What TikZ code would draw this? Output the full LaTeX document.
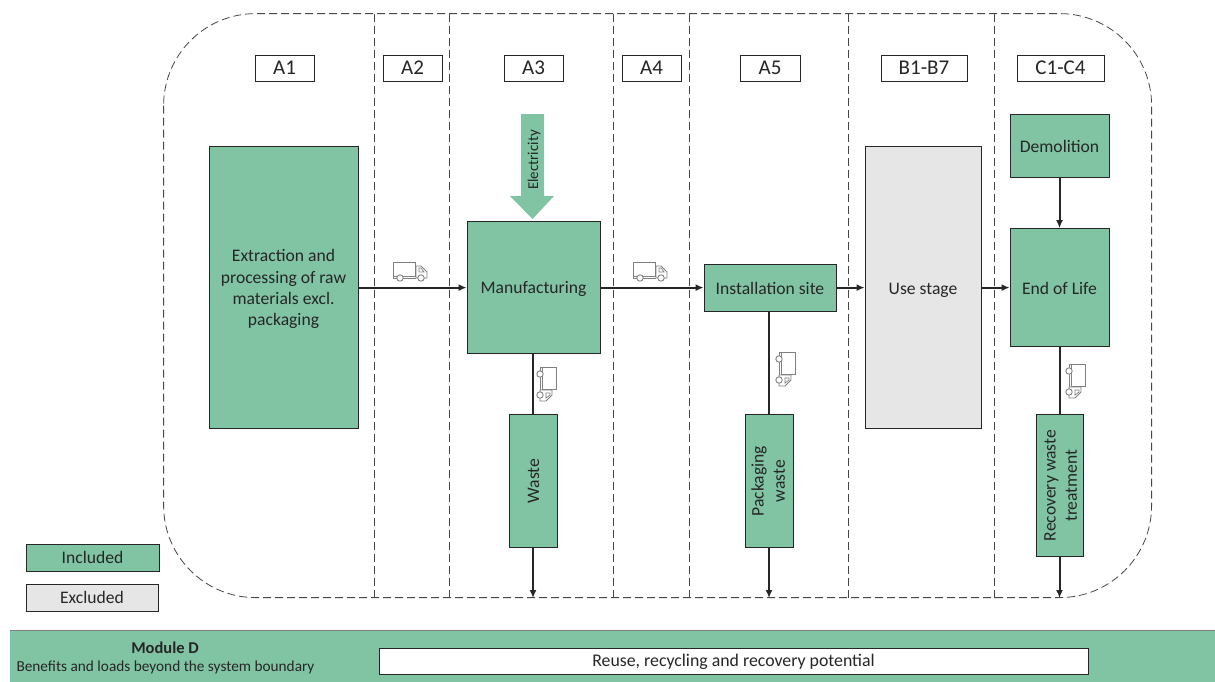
\documentclass[tikz,border=0pt]{standalone}
\usepackage{fontspec}
\setmainfont{Carlito}
\usetikzlibrary{arrows.meta}
\definecolor{grn}{HTML}{80C4A3}
\definecolor{gry}{HTML}{E6E6E6}
\definecolor{ink}{HTML}{262626}
\definecolor{trk}{HTML}{808080}
\newcommand\lowr[2]{\raisebox{-#1}[\height][\depth]{#2}}
\tikzset{
  x=1pt,y=-1pt,
  every node/.style={font=\fontsize{17.6}{21.3}\selectfont,text=ink,inner sep=0pt,align=center},
  box/.style={draw=ink,line width=0.9pt,fill=grn,minimum width=#1},
  box/.default=40pt,
  grey/.style={fill=gry},
  tag/.style={draw=ink,line width=0.7pt,fill=white,minimum height=26pt,font=\fontsize{21}{24}\selectfont},
  bound/.style={draw=ink!85,line width=0.8pt,dash pattern=on 8pt off 4pt},
  arr/.style={draw=ink,line width=2pt,-{Latex[length=8pt,width=7pt]}},
  plain/.style={draw=ink,line width=2pt},
  truck/.pic={
    \draw[trk,line width=0.9pt,fill=white] (-17,-9) rectangle (5,5);
    \draw[trk,line width=0.9pt,fill=white] (6,-5) -- (11,-5) -- (17,1) -- (17,7) -- (6,7) -- cycle;
    \draw[trk,line width=0.8pt] (-17,5) -- (-17,7) -- (6,7);
    \draw[trk,line width=0.7pt] (9,-3) -- (11,-3) -- (14,1) -- (9,1) -- cycle;
    \draw[trk,line width=0.9pt,fill=white] (-10,7) circle (3.2);
    \draw[trk,line width=0.9pt,fill=white] (11,7) circle (3.2);
  }
}
\begin{document}
\begin{tikzpicture}
\useasboundingbox (0,0) rectangle (1215,681);
\fill[white] (0,0) rectangle (1215,681);
% system boundary
\draw[bound,rounded corners=92pt] (163.6,13.6) rectangle (1151.6,597.6);
\foreach \x in {374.6,449.6,613.6,689.6,848.6,994.6} \draw[bound] (\x,13.6) -- (\x,597.6);
% module labels
\node[tag,minimum width=59pt] (tA1) at (284.5,68) {A1};
\node[tag,minimum width=59pt] (tA2) at (412.5,68) {A2};
\node[tag,minimum width=59pt] (tA3) at (533.5,68) {A3};
\node[tag,minimum width=59pt] (tA4) at (651.5,68) {A4};
\node[tag,minimum width=60pt] (tA5) at (770,68) {A5};
\node[tag,minimum width=86pt] (tB) at (924,68) {B1-B7};
\node[tag,minimum width=87pt] (tC) at (1060.5,68) {C1-C4};
% process boxes
\node[box=149pt,minimum height=282pt] (raw) at (283.5,287.6) {\lowr{1.8pt}{\begin{tabular}{@{}c@{}}Extraction and\\processing of raw\\materials excl.\\packaging\end{tabular}}};
\node[box=133pt,minimum height=132pt] (mfg) at (533.5,287.6) {\lowr{1.8pt}{Manufacturing}};
\node[box=132pt,minimum height=47pt] (site) at (770,287.6) {\lowr{1pt}{Installation site}};
\node[box=116pt,minimum height=282pt,grey] (use) at (923,287.6) {\lowr{2.3pt}{Use stage}};
\node[box=99pt,minimum height=118pt] (eol) at (1059.5,287.6) {\lowr{0.8pt}{End of Life}};
\node[box=99pt,minimum height=63pt] (demo) at (1059.5,146.1) {\lowr{0.3pt}{Demolition}};
\node[box=48pt,minimum height=133pt] (waste) at (533,481.1) {\rotatebox{90}{\lowr{0.5pt}{Waste}}};
\node[box=48pt,minimum height=133pt] (pack) at (769,481.1) {\rotatebox{90}{\lowr{1pt}{\begin{tabular}{@{}c@{}}Packaging\\waste\end{tabular}}}};
\node[box=47pt,minimum height=142pt] (rec) at (1059.5,485.6) {\rotatebox{90}{\lowr{2.5pt}{\begin{tabular}{@{}c@{}}Recovery waste\\treatment\end{tabular}}}};
% electricity arrow
\path[fill=grn] (521,114) -- (544,114) -- (544,196) -- (554,196) -- (532.5,219) -- (510,196) -- (521,196) -- cycle;
\node[font=\fontsize{15}{18}\selectfont,rotate=90] (elec) at (534,160) {Electricity};
% connectors
\coordinate (e1) at (533,598);
\coordinate (e2) at (769,598);
\coordinate (e3) at (1059.5,598);
\draw[arr] (raw) -- (mfg);
\draw[arr] (mfg) -- (site);
\draw[arr] (site) -- (use);
\draw[arr] (use) -- (eol);
\draw[arr] (demo) -- (eol);
\draw[plain] (mfg.south -| waste.north) -- (waste.north);
\draw[plain] (site.south -| pack.north) -- (pack.north);
\draw[plain] (eol) -- (rec);
\draw[arr] (waste) -- (e1);
\draw[arr] (pack) -- (e2);
\draw[arr] (rec) -- (e3);
% trucks
\pic at (410,271) {truck};
\pic at (650,271) {truck};
\pic[rotate=-90] at (547,384) {truck};
\pic[rotate=-90] at (786,369) {truck};
\pic[rotate=-90] at (1076,381) {truck};
% legend
\node[box=133pt,minimum height=27pt] (inc) at (92.5,557.5) {Included};
\node[box=132pt,minimum height=27pt,grey] (exc) at (92,597.5) {Excluded};
% module D
\node[fill=grn,draw=none,minimum width=1206pt,minimum height=51pt] (band) at (613,656.5) {};
\draw[trk,line width=0.8pt] (band.north west) -- (band.north east);
\node[font=\bfseries\fontsize{16.5}{19}\selectfont] (modd) at (165,648) {Module D};
\node[font=\fontsize{15.3}{18}\selectfont] (ben) at (165.5,667) {Benefits and loads beyond the system boundary};
\node[draw=ink,line width=0.8pt,fill=white,minimum width=709pt,minimum height=26pt,font=\fontsize{17.8}{21}\selectfont] (reuse) at (733.5,661) {\lowr{1pt}{Reuse, recycling and recovery potential}};
\end{tikzpicture}
\end{document}
